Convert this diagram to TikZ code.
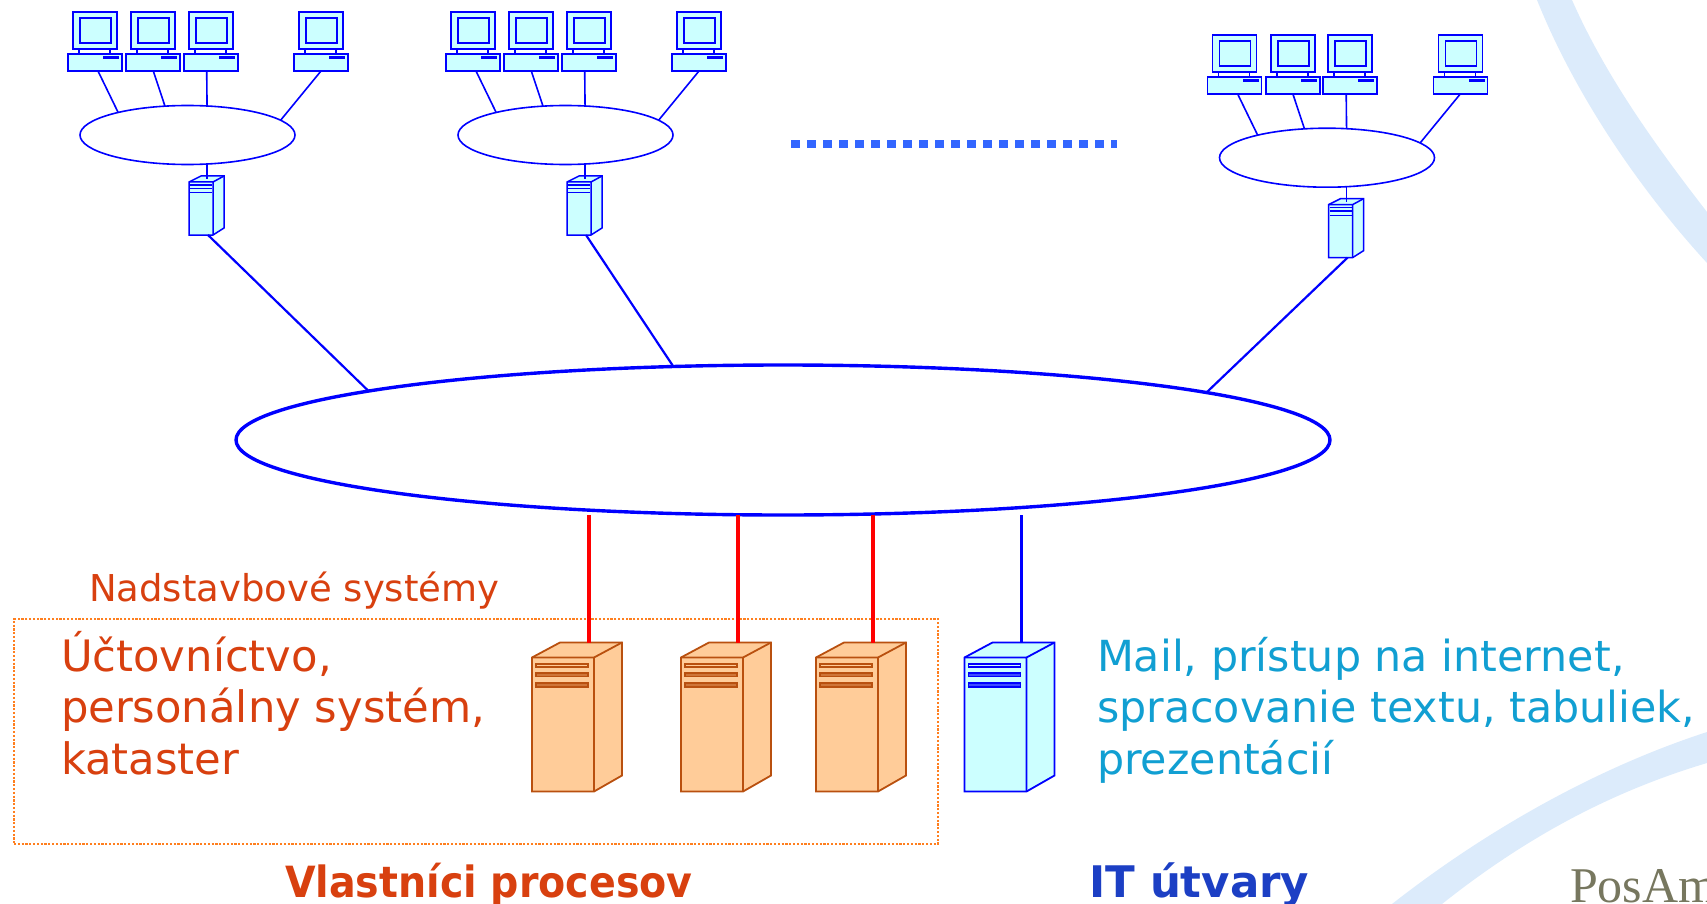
\documentclass[tikz,border=0pt]{standalone}
\usetikzlibrary{shapes.geometric}
\usepackage{fontspec}
\setmainfont{DejaVu Sans}
\newfontfamily\serifpos{Liberation Serif}
\definecolor{netblue}{HTML}{0000FF}
\definecolor{netfill}{HTML}{CCFFFF}
\definecolor{srvedge}{HTML}{B9500F}
\definecolor{srvfill}{HTML}{FFCC99}
\definecolor{swoosh}{HTML}{DCEBFB}
\definecolor{ownred}{HTML}{D8400F}
\definecolor{mailblue}{HTML}{119FD2}
\definecolor{itblue}{HTML}{1C3FC4}
\definecolor{posam}{HTML}{77775F}
\definecolor{boxorange}{HTML}{FF7F1F}
\definecolor{dotsblue}{HTML}{3366FF}
\tikzset{
  x=1pt,y=-1pt,
  lan/.style={draw=netblue,fill=white,ellipse,inner sep=0pt,outer sep=0pt,line width=1.6pt,minimum width=215pt,minimum height=59pt},
  backbone/.style={draw=netblue,fill=white,ellipse,inner sep=0pt,outer sep=0pt,line width=3.4pt,minimum width=1094pt,minimum height=150pt},
  thinlink/.style={draw=netblue,line width=1.6pt},
  wanlink/.style={draw=netblue,line width=2.2pt},
  redlink/.style={draw=red,line width=3.2pt},
  bluelink/.style={draw=netblue,line width=3.2pt},
  label/.style={inner sep=0pt,outer sep=0pt,anchor=base west,align=left},
  pics/pcicon/.style={code={
    \begin{scope}[draw=netblue,line width=1.7pt]
      \draw[fill=netfill] (0,0) rectangle (44,37);
      \draw[fill=netfill] (7,6) rectangle (38,31);
      \draw (6,37) -- (6,42) (37,37) -- (37,42);
      \node[draw=netblue,fill=netfill,line width=1.7pt,inner sep=0pt,outer sep=0pt,minimum width=54pt,minimum height=17pt] (-base) at (22,50.5) {};
      \fill[netblue] (30,44.5) rectangle (46,47.5);
    \end{scope}
  }},
  pics/smallserver/.style={code={
    \begin{scope}[draw=netblue,line width=1.5pt,fill=netfill]
      \draw[fill=netfill] (0,0) -- (12,-6) -- (35,-6) -- (35,46) -- (24,53) -- (0,53) -- cycle;
      \draw (0,0) -- (24,0) -- (24,53) (24,0) -- (35,-6);
      \draw (1,3) -- (23,3) (1,6.3) -- (23,6.3) (1,10.7) -- (23,10.7);
      \coordinate (-top) at (18,-3);
      \coordinate (-bot) at (19,53);
    \end{scope}
  }},
  pics/bigserver/.style 2 args={code={
    \draw[draw=#1,fill=#2,line width=1.8pt] (0,0) -- (28,-15) -- (90,-15) -- (90,118) -- (62,134) -- (0,134) -- cycle;
    \draw[draw=#1,line width=1.8pt] (0,0) -- (62,0) -- (62,134) (62,0) -- (90,-15);
    \draw[draw=#1,fill=#2,line width=1.6pt] (4,6.2) rectangle (56,9.7);
    \draw[draw=#1,fill=#1!70!#2,line width=1.6pt] (4,15.5) rectangle (56,19) (4,25.6) rectangle (56,29.2);
    \coordinate (-top) at (57,-15);
  }},
}
\begin{document}
\begin{tikzpicture}
\useasboundingbox (0,0) rectangle (1707,904);
\clip (0,0) rectangle (1707,904);
% background swooshes
\fill[swoosh] (1537,0) .. controls (1575,95) and (1640,190) .. (1707,263) -- (1707,212) .. controls (1655,145) and (1605,75) .. (1572,0) -- cycle;
\fill[swoosh] (1392,904) .. controls (1480,835) and (1590,770) .. (1707,732) -- (1707,763) .. controls (1610,792) and (1525,838) .. (1442,904) -- cycle;

% backbone
\node[backbone] (big) at (783,440) {};

% LAN groups
\foreach \g/\dx/\dy/\ox/\oy in {a/0/0/-415/-49.5,b/378/0/-110/-74,c/1139.5/22.7/424/-48}{
  \begin{scope}[shift={(\dx,\dy)}]
    \pic (\g p1) at (73,12) {pcicon};
    \pic (\g p2) at (131.3,12) {pcicon};
    \pic (\g p3) at (188.7,12) {pcicon};
    \pic (\g p4) at (299,12) {pcicon};
    \node[lan] (\g lan) at (187.5,135) {};
    \pic (\g srv) at (189,182) {smallserver};
  \end{scope}
  \draw[thinlink] ([xshift=3pt]\g p1-base.south) -- (\g lan.162.5);
  \draw[thinlink] ([xshift=0pt]\g p2-base.south) -- (\g lan.128);
  \draw[thinlink] ([xshift=-4pt]\g p3-base.south) -- (\g lan.56.3);
  \draw[thinlink] (\g p4-base.south) -- (\g lan.9);
  \draw[thinlink] (\g srv-top |- \g lan.south) -- (\g srv-top);
  \draw[wanlink] (\g srv-bot) -- ([shift={(\ox,\oy)}]big.center);
}

% dotted ellipsis
\coordinate (dotsL) at (791.3,144.2);
\coordinate (dotsR) at (1117,144.2);
\draw[dotsblue,line width=8.3pt,dash pattern=on 8.3pt off 7.7pt] (dotsL) -- (dotsR);

% dotted group box
\node[draw=boxorange,line width=2.2pt,dash pattern=on 2.2pt off 1.6pt,inner sep=0pt,minimum width=924pt,minimum height=225pt] (ownbox) at (476,731.5) {};

% servers
\pic (s1) at (532,657.5) {bigserver={srvedge}{srvfill}};
\pic (s2) at (681,657.5) {bigserver={srvedge}{srvfill}};
\pic (s3) at (816,657.5) {bigserver={srvedge}{srvfill}};
\pic (s4) at (964.5,657.5) {bigserver={netblue}{netfill}};
\draw[redlink] (s1-top |- big.south) -- (s1-top);
\draw[redlink] (s2-top |- big.south) -- (s2-top);
\draw[redlink] (s3-top |- big.south) -- (s3-top);
\draw[bluelink] (s4-top |- big.south) -- (s4-top);

% texts
\node[label,text=ownred,font=\fontsize{37}{44}\selectfont] (nad) at (89,601) {Nadstavbové systémy};
\node[label,text=ownred,font=\fontsize{43.3}{51.5}\selectfont] (uct) at (61,774) {Účtovníctvo,\\personálny systém,\\kataster};
\node[label,text=mailblue,font=\fontsize{42.8}{51.5}\selectfont] (mail) at (1097,774) {Mail, prístup na internet,\\spracovanie textu, tabuliek,\\prezentácií};
\node[label,text=ownred,font=\fontsize{43}{50}\selectfont\bfseries\addfontfeature{FakeStretch=0.92}] (vl) at (285,897) {Vlastníci procesov};
\node[label,text=itblue,font=\fontsize{43.5}{50}\selectfont\bfseries] (it) at (1089,897) {IT útvary};
\node[label,text=posam,font=\fontsize{50}{60}\selectfont\serifpos] (pos) at (1570,902) {PosAm};
\end{tikzpicture}
\end{document}
